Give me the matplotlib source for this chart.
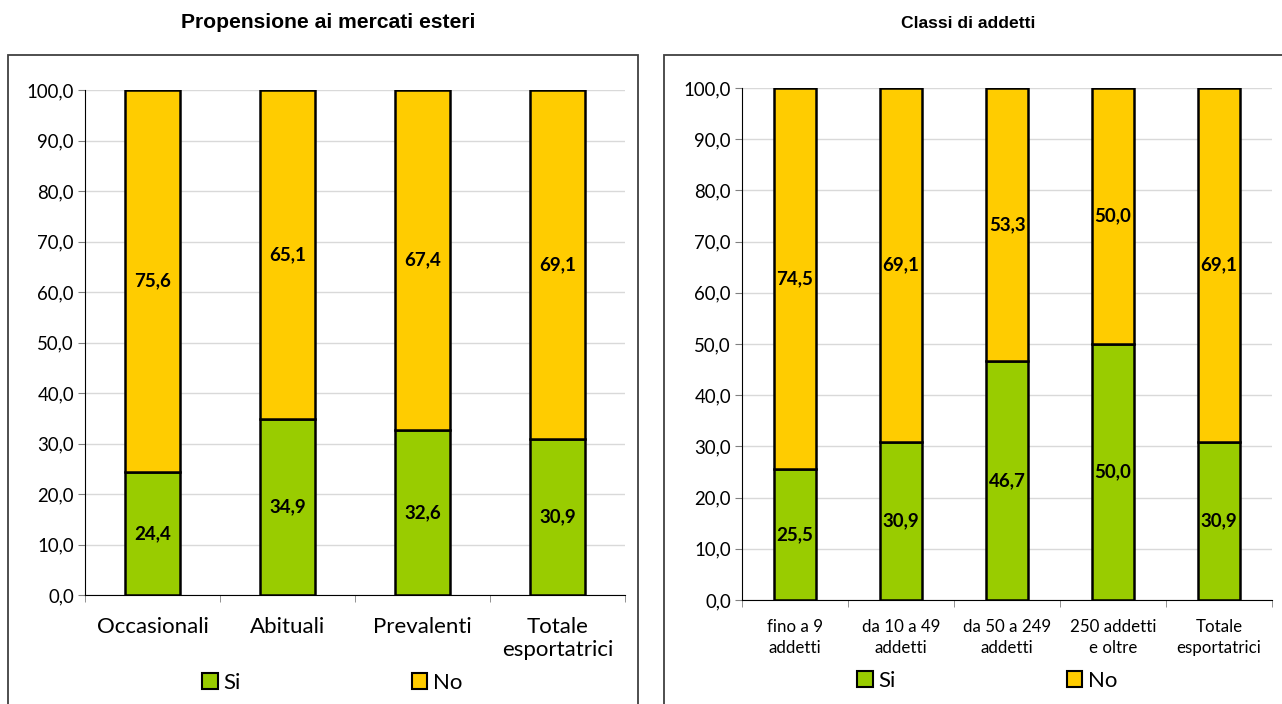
import matplotlib.pyplot as plt
from matplotlib.patches import Rectangle, Patch

plt.rcParams['font.family'] = ['Lato', 'DejaVu Sans']

# dati
propensione = ['Occasionali', 'Abituali', 'Prevalenti', 'Totale\nesportatrici']
prop_si = [24.4, 34.9, 32.6, 30.9]
prop_no = [75.6, 65.1, 67.4, 69.1]

classi = ['fino a 9\naddetti', 'da 10 a 49\naddetti', 'da 50 a 249\naddetti',
          '250 addetti\ne oltre', 'Totale\nesportatrici']
classi_si = [25.5, 30.9, 46.7, 50.0, 30.9]
classi_no = [74.5, 69.1, 53.3, 50.0, 69.1]

VERDE = '#99CC00'
GIALLO = '#FFCC00'

W, H = 1282, 704
fig = plt.figure(figsize=(W / 100, H / 100), dpi=100)


def fx(px):
    return px / W


def fy(py):
    return 1 - py / H


def pannello(rect, cats, si, no, width, xfs, xpad, lsp, title, tfs, title_x, frame, leg, colsp):
    # cornice
    x0, y0, x1 = frame
    fig.patches.append(Rectangle((fx(x0), fy(H + 5)), fx(x1) - fx(x0), fy(y0) - fy(H + 5),
                                 transform=fig.transFigure, fill=False,
                                 edgecolor='#404040', linewidth=1.3))
    fig.text(fx(title_x), fy(23), title, ha='center', va='center',
             fontsize=tfs, fontweight='bold', family=['Liberation Sans', 'DejaVu Sans'])

    ax = fig.add_axes(rect)
    x = range(len(cats))
    ax.bar(x, si, width=width, color=VERDE, edgecolor='black', linewidth=1.8, zorder=3, label='Si')
    ax.bar(x, no, bottom=si, width=width, color=GIALLO, edgecolor='black', linewidth=1.8,
           zorder=3, label='No')
    for i in x:
        ax.text(i, si[i] / 2, f'{si[i]:.1f}'.replace('.', ','), ha='center', va='center',
                fontsize=13.5, fontweight='bold', zorder=4)
        ax.text(i, si[i] + no[i] / 2, f'{no[i]:.1f}'.replace('.', ','), ha='center',
                va='center', fontsize=13.5, fontweight='bold', zorder=4)

    ax.set_ylim(0, 100)
    ax.set_xlim(-0.5, len(cats) - 0.5)
    ax.set_yticks(range(0, 101, 10))
    ax.set_yticklabels([f'{v},0' for v in range(0, 101, 10)], fontsize=13.4)
    ax.yaxis.grid(True, color='#d9d9d9', linewidth=1, zorder=0)
    ax.set_xticks(list(x))
    ax.set_xticklabels(cats, fontsize=xfs, linespacing=lsp)
    ax.set_xticks([i - 0.5 for i in range(len(cats) + 1)], minor=True)
    ax.tick_params(axis='x', which='major', length=0, pad=xpad)
    ax.tick_params(axis='x', which='minor', length=5, color='#808080')
    ax.tick_params(axis='y', length=5, color='#808080', pad=3)
    for s in ['top', 'right']:
        ax.spines[s].set_visible(False)
    ax.spines['left'].set_color('black')
    ax.spines['bottom'].set_color('black')

    handles = [Patch(facecolor=VERDE, edgecolor='black', linewidth=1.5, label='Si'),
               Patch(facecolor=GIALLO, edgecolor='black', linewidth=1.5, label='No')]
    fig.legend(handles=handles, loc='center', bbox_to_anchor=(fx(leg[0]), fy(leg[1])),
               ncol=2, frameon=False, fontsize=16, handlelength=0.7, handleheight=0.7,
               handletextpad=0.25, columnspacing=colsp)
    return ax


pannello([fx(85), fy(595), fx(625) - fx(85), fy(90) - fy(595)],
         propensione, prop_si, prop_no, 0.41, 16, 16, 1.2,
         'Propensione ai mercati esteri', 15.2, 328, (8, 55, 638), (332, 683), 7.7)
pannello([fx(742), fy(600), fx(1272) - fx(742), fy(88) - fy(600)],
         classi, classi_si, classi_no, 0.40, 12.2, 14, 1.35,
         'Classi di addetti', 12.6, 968, (664, 55, 1290), (987, 681), 7.7)

fig.savefig('out.png', dpi=100)
